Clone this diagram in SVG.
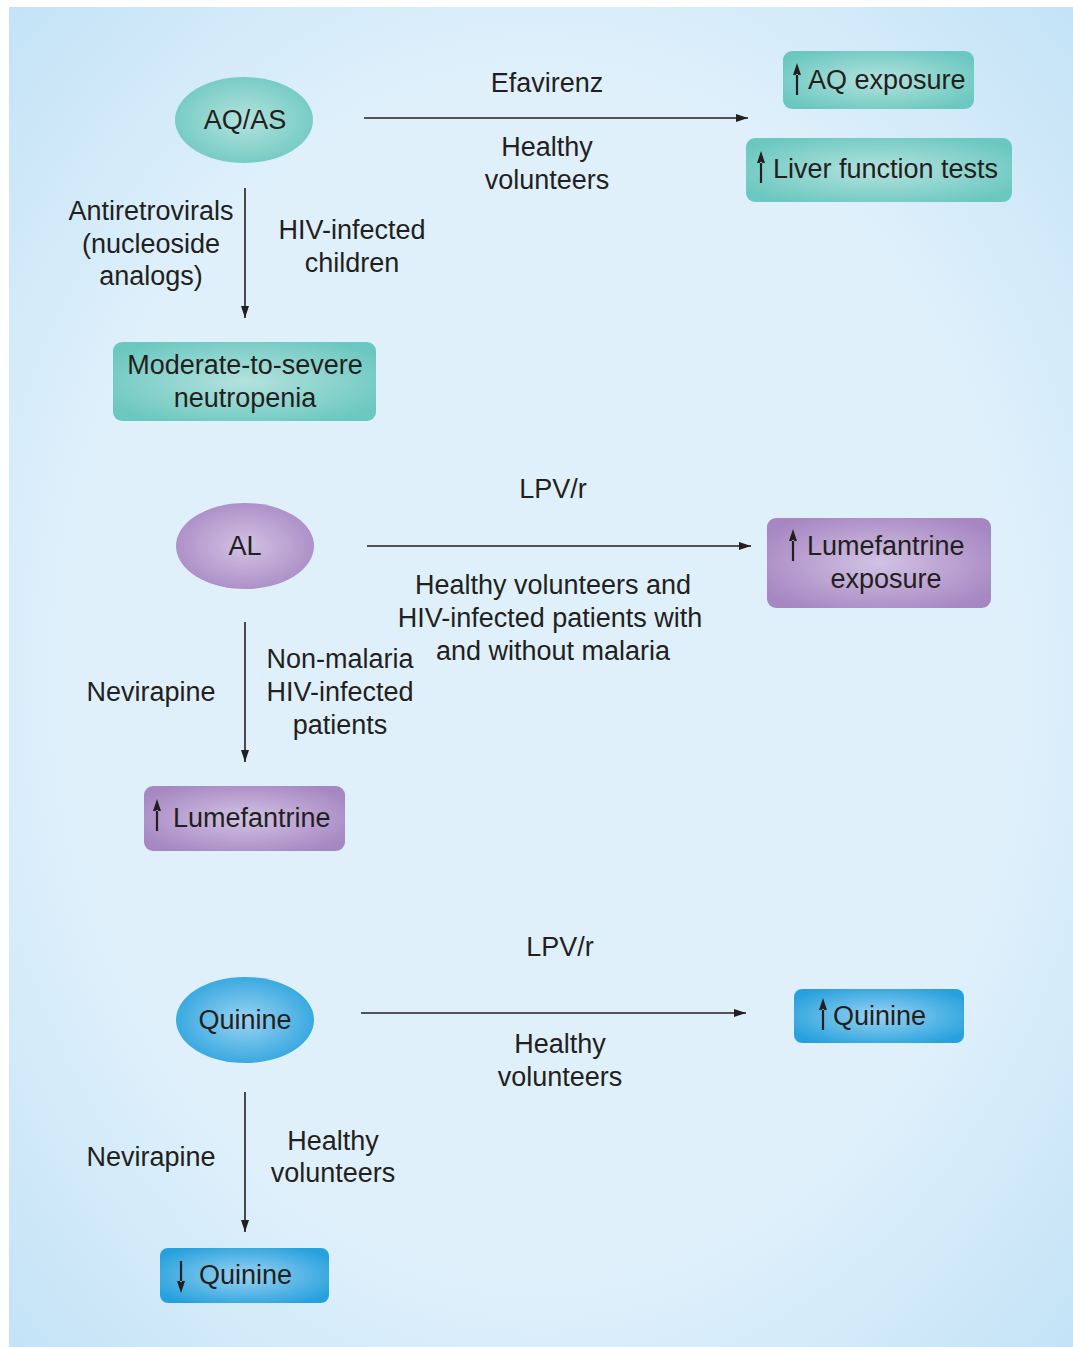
<svg xmlns="http://www.w3.org/2000/svg" width="1073" height="1347" viewBox="0 0 1073 1347">
<defs>
<radialGradient id="bg" cx="0.5" cy="0.5" r="0.72">
<stop offset="0.62" stop-color="#dff0fb"/>
<stop offset="1" stop-color="#c2e2f6"/>
</radialGradient>
<radialGradient id="teal" cx="0.5" cy="0.5" r="0.6">
<stop offset="0" stop-color="#b4e2de"/>
<stop offset="1" stop-color="#6bc8c0"/>
</radialGradient>
<radialGradient id="purp" cx="0.5" cy="0.5" r="0.6">
<stop offset="0" stop-color="#d2c2e4"/>
<stop offset="1" stop-color="#a687c2"/>
</radialGradient>
<radialGradient id="blue" cx="0.5" cy="0.5" r="0.6">
<stop offset="0" stop-color="#9ad3f2"/>
<stop offset="1" stop-color="#27a1dd"/>
</radialGradient>
<marker id="ah" viewBox="0 0 12 8" refX="12" refY="4" markerWidth="12" markerHeight="8" markerUnits="userSpaceOnUse" orient="auto">
<path d="M0,0 L12,4 L0,8 Z" fill="#231f20"/>
</marker>
<path id="up" d="M0,0 L-4,12 L4,12 Z M-1.1,11 L1.1,11 L1.1,32 L-1.1,32 Z" fill="#231f20"/>
</defs>
<style>
text{font-family:"Liberation Sans",Arial,sans-serif;font-size:27px;fill:#231f20;}
.c{text-anchor:middle;}
.ln{stroke:#231f20;stroke-width:1.6;fill:none;}
</style>
<rect x="9" y="7" width="1064" height="1340" fill="url(#bg)"/>

<g id="connectors">
<line class="ln" x1="364" y1="118" x2="748" y2="118" marker-end="url(#ah)"/>
<line class="ln" x1="245" y1="188" x2="245" y2="318" marker-end="url(#ah)"/>
<line class="ln" x1="367" y1="546" x2="751" y2="546" marker-end="url(#ah)"/>
<line class="ln" x1="245" y1="622" x2="245" y2="762" marker-end="url(#ah)"/>
<line class="ln" x1="361" y1="1013" x2="746" y2="1013" marker-end="url(#ah)"/>
<line class="ln" x1="245" y1="1092" x2="245" y2="1232" marker-end="url(#ah)"/>
</g>

<g id="labels">
<text class="c" x="547" y="92">Efavirenz</text>
<text class="c" x="547" y="156">Healthy</text>
<text class="c" x="547" y="189">volunteers</text>
<text class="c" x="151" y="220">Antiretrovirals</text>
<text class="c" x="151" y="253">(nucleoside</text>
<text class="c" x="151" y="285">analogs)</text>
<text class="c" x="352" y="239">HIV-infected</text>
<text class="c" x="352" y="272">children</text>
<text class="c" x="553" y="498">LPV/r</text>
<text class="c" x="553" y="594">Healthy volunteers and</text>
<text class="c" x="550" y="627">HIV-infected patients with</text>
<text class="c" x="553" y="660">and without malaria</text>
<text class="c" x="151" y="701">Nevirapine</text>
<text class="c" x="340" y="668">Non-malaria</text>
<text class="c" x="340" y="701">HIV-infected</text>
<text class="c" x="340" y="734">patients</text>
<text class="c" x="560" y="956">LPV/r</text>
<text class="c" x="560" y="1053">Healthy</text>
<text class="c" x="560" y="1086">volunteers</text>
<text class="c" x="151" y="1166">Nevirapine</text>
<text class="c" x="333" y="1150">Healthy</text>
<text class="c" x="333" y="1182">volunteers</text>
</g>

<g id="node-aqas">
<ellipse cx="244" cy="120" rx="69" ry="43" fill="url(#teal)"/>
<text class="c" x="245" y="129">AQ/AS</text>
</g>
<g id="node-aq-exposure">
<rect x="783" y="51" width="191" height="58" rx="9" fill="url(#teal)"/>
<use href="#up" x="797" y="63"/>
<text x="808" y="89">AQ exposure</text>
</g>
<g id="node-liver">
<rect x="746" y="138" width="266" height="64" rx="9" fill="url(#teal)"/>
<use href="#up" x="761" y="151"/>
<text x="773" y="178">Liver function tests</text>
</g>
<g id="node-neutropenia">
<rect x="113" y="342" width="263" height="79" rx="9" fill="url(#teal)"/>
<text class="c" x="245" y="374">Moderate-to-severe</text>
<text class="c" x="245" y="407">neutropenia</text>
</g>

<g id="node-al">
<ellipse cx="245" cy="546" rx="69" ry="43" fill="url(#purp)"/>
<text class="c" x="245" y="555">AL</text>
</g>
<g id="node-lum-exposure">
<rect x="767" y="518" width="224" height="90" rx="9" fill="url(#purp)"/>
<use href="#up" x="793" y="529"/>
<text x="807" y="555">Lumefantrine</text>
<text class="c" x="886" y="588">exposure</text>
</g>
<g id="node-lum">
<rect x="144" y="786" width="201" height="65" rx="9" fill="url(#purp)"/>
<use href="#up" x="157" y="799"/>
<text x="173" y="827">Lumefantrine</text>
</g>

<g id="node-quinine">
<ellipse cx="245" cy="1020" rx="69" ry="43" fill="url(#blue)"/>
<text class="c" x="245" y="1029">Quinine</text>
</g>
<g id="node-quinine-up">
<rect x="794" y="989" width="170" height="54" rx="8" fill="url(#blue)"/>
<use href="#up" x="823" y="998"/>
<text x="833" y="1025">Quinine</text>
</g>
<g id="node-quinine-down">
<rect x="160" y="1248" width="169" height="55" rx="8" fill="url(#blue)"/>
<use href="#up" transform="translate(181,1293) scale(1,-1)"/>
<text x="199" y="1284">Quinine</text>
</g>
</svg>
